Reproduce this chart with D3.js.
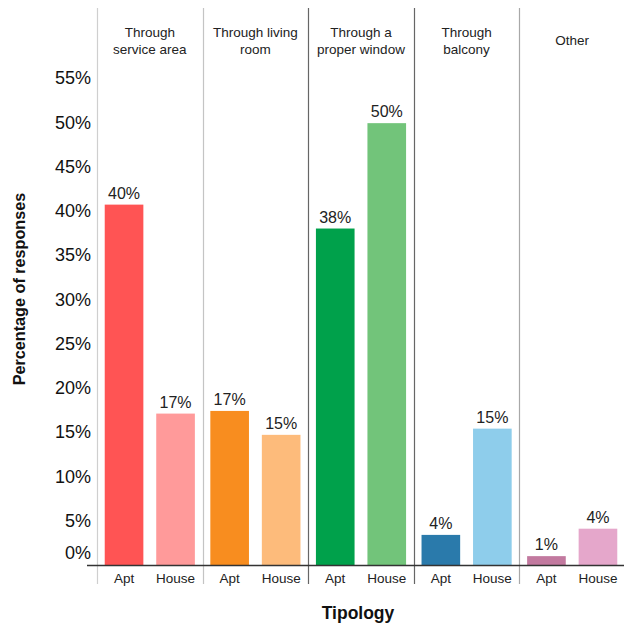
<!DOCTYPE html>
<html><head><meta charset="utf-8">
<script src="https://cdn.jsdelivr.net/npm/d3@7"></script>
<style>body{margin:0;background:#fff}svg{display:block;font-family:"Liberation Sans",Arial,sans-serif}</style>
</head><body><svg id="c" width="624" height="625"></svg>
<script>
const categories = ["Through service area","Through living room","Through a proper window","Through balcony","Other"];
const titleLines = [["Through","service area"],["Through living","room"],["Through a","proper window"],["Through","balcony"],["Other"]];
const types = ["Apt","House"];
const aptValues = [40.7, 17.4, 38.0, 3.4, 1.0];
const houseValues = [17.1, 14.7, 49.9, 15.4, 4.1];
const aptLabels = ["40%","17%","38%","4%","1%"];
const houseLabels = ["17%","15%","50%","15%","4%"];
const aptColors = ["#FF5454","#F88D1F","#00A14B","#2A7AAB","#C2799F"];
const houseColors = ["#FF9A9A","#FDBB7B","#72C47A","#8ECDEB","#E5A7CB"];
const yTicks = [0,5,10,15,20,25,30,35,40,45,50,55];
const dividerColors = ["#cfcfcf","#c4c4c4","#666","#666","#a8a8a8"];

const svg = d3.select("#c");
const x = d3.scaleBand().domain(categories).range([97, 625]).padding(0);
const xi = d3.scaleBand().domain(types).range([0, x.bandwidth()]).paddingInner(0.25).paddingOuter(0.15);
const y = d3.scaleLinear().domain([0, 55]).range([565, 78]);

const rows = categories.map((c,i)=>({c,i,bars:[
  {t:"Apt",v:aptValues[i],lab:aptLabels[i],col:aptColors[i]},
  {t:"House",v:houseValues[i],lab:houseLabels[i],col:houseColors[i]}]}));

// dividers
svg.selectAll("line.div").data(categories).join("line")
  .attr("x1",d=>Math.round(x(d))+0.5).attr("x2",d=>Math.round(x(d))+0.5)
  .attr("y1",8).attr("y2",584)
  .attr("stroke",(d,i)=>dividerColors[i]).attr("stroke-width",1.2);

// titles
const tg = svg.selectAll("text.title").data(rows).join("text")
  .attr("text-anchor","middle").attr("font-size",13.5).attr("fill","#222");
tg.each(function(r){
  const lines = titleLines[r.i];
  const sel = d3.select(this);
  const cx = x(r.c)+x.bandwidth()/2;
  lines.forEach((l,k)=>{
    sel.append("tspan").attr("x",cx)
      .attr("y", lines.length===1 ? 45 : 37 + k*16.5).text(l);
  });
});

// bars
const g = svg.selectAll("g.panel").data(rows).join("g").attr("transform",d=>`translate(${x(d.c)},0)`);
g.selectAll("rect").data(d=>d.bars).join("rect")
  .attr("x",d=>xi(d.t)).attr("width",xi.bandwidth())
  .attr("y",d=>y(d.v)).attr("height",d=>y(0)-y(d.v))
  .attr("fill",d=>d.col);
g.selectAll("text.val").data(d=>d.bars).join("text").attr("class","val")
  .attr("x",d=>xi(d.t)+xi.bandwidth()/2).attr("y",d=>y(d.v)-6)
  .attr("text-anchor","middle").attr("font-size",16).attr("fill","#222").text(d=>d.lab);
g.selectAll("text.xt").data(d=>d.bars).join("text").attr("class","xt")
  .attr("x",d=>xi(d.t)+xi.bandwidth()/2).attr("y",583)
  .attr("text-anchor","middle").attr("font-size",13.5).attr("fill","#222").text(d=>d.t);

// x axis line
svg.append("line").attr("x1",87).attr("x2",624).attr("y1",y(0)+0.5).attr("y2",y(0)+0.5)
  .attr("stroke","#333").attr("stroke-width",1.3);

// y tick labels
svg.selectAll("text.yt").data(yTicks).join("text").attr("class","yt")
  .attr("x",91).attr("y",d=>y(d)+(d===0?-12:0)).attr("dy","0.35em")
  .attr("text-anchor","end").attr("font-size",18).attr("fill","#111").text(d=>d+"%");

// axis titles
svg.append("text").attr("transform","translate(25,289) rotate(-90)")
  .attr("text-anchor","middle").attr("font-size",16.2).attr("font-weight","bold").attr("fill","#111")
  .text("Percentage of responses");
svg.append("text").attr("x",358).attr("y",619).attr("text-anchor","middle")
  .attr("font-size",17.5).attr("font-weight","bold").attr("fill","#111").text("Tipology");
</script></body></html>
